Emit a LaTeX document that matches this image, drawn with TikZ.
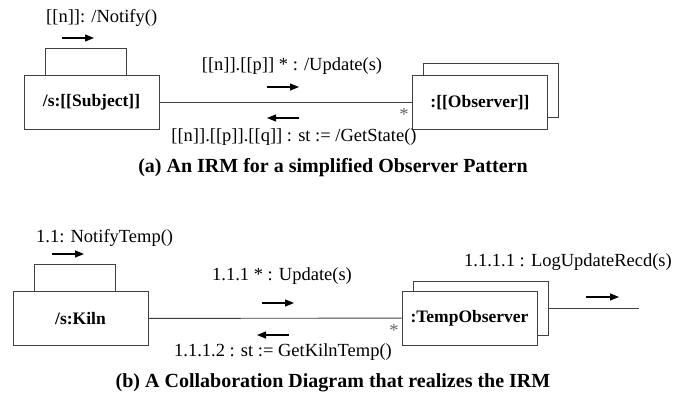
\documentclass[tikz,border=0pt]{standalone}
\usepackage{fontspec}
\setmainfont{Liberation Serif}
\usetikzlibrary{arrows.meta,positioning,calc}

\begin{document}
\begin{tikzpicture}[x=1pt,y=-1pt,
  txt/.style={font=\rmfamily\fontsize{18.5}{20}\selectfont,inner sep=0pt},
  obj/.style={draw=black!75,line width=0.9pt,fill=white,inner sep=0pt,
    minimum width=135pt,minimum height=54pt,font=\rmfamily\bfseries\fontsize{17.5}{19}\selectfont},
  link/.style={draw=black!75,line width=0.9pt},
  msg/.style={line width=1.1pt,-{Triangle[length=9pt,width=7pt]}},
  caption/.style={font=\rmfamily\bfseries\fontsize{20}{22}\selectfont,inner sep=0pt}]
\useasboundingbox (0,0) rectangle (686,405);

% (a) the IRM
\node[obj] (obsback) at (491,90.5) {};
\node[obj] (obs) at (480,102.5) {:[[Observer]]};
\node[obj] (subj) at (91.5,102.5) {/s:[[Subject]]};
\draw[link] (subj) -- (obs);
\draw[link] ($(subj.north west)+(22,0)$) -- ++(0,-27) -- ++(81,0) -- ++(0,27);
\draw[msg] (62,38) -- ++(32,0);
\node[txt,anchor=west] (notify) at (46,18) {[[n]]: /Notify()};
\node[txt] (update) at (292,66) {[[n]].[[p]] * : /Update(s)};
\draw[msg] (267,87) -- ++(32,0);
\draw[msg] (299,118) -- ++(-32,0);
\node[txt] (getstate) at (294,137) {[[n]].[[p]].[[q]] : st := /GetState()};
\node[txt,text=black!60] (mult) at (404,114) {*};
\node[caption] (capa) at (333,168) {(a) An IRM for a simplified Observer Pattern};

% (b) the collaboration
\node[obj] (tobsback) at (480.5,308.5) {};
\node[obj] (tobs) at (469.5,318) {:TempObserver};
\node[obj] (kiln) at (80.5,318.5) {/s:Kiln};
\draw[link] (kiln) -- (tobs);
\coordinate (logend) at (639,308.5);
\draw[link] (tobsback) -- (logend);
\draw[link] ($(kiln.north west)+(22,0)$) -- ++(0,-27) -- ++(81,0) -- ++(0,27);
\draw[msg] (52,254) -- ++(32,0);
\node[txt,anchor=west] (notifytemp) at (36,238) {1.1: NotifyTemp()};
\node[txt] (tupdate) at (282,276) {1.1.1 * : Update(s)};
\draw[msg] (262,303) -- ++(32,0);
\draw[msg] (289,335) -- ++(-32,0);
\node[txt] (getkiln) at (283,352) {1.1.1.2 : st := GetKilnTemp()};
\node[txt,text=black!60] (tmult) at (394,330) {*};
\node[txt] (logupd) at (568,262) {1.1.1.1 : LogUpdateRecd(s)};
\draw[msg] (586,297) -- ++(33,0);
\node[caption] (capb) at (333,383) {(b) A Collaboration Diagram that realizes the IRM};
\end{tikzpicture}
\end{document}
